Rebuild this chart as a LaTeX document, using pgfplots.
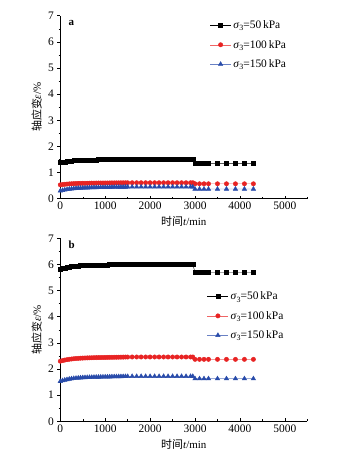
\documentclass[border=0pt]{standalone}
\usepackage{fontspec}
\setmainfont{Liberation Serif}
\newfontfamily\cjk{Noto Sans CJK SC}
\usepackage{pgfplots}
\usepackage{pgfplotstable}
\pgfplotsset{compat=1.18}
\definecolor{myred}{RGB}{232,35,35}
\definecolor{myblue}{RGB}{40,75,170}

\pgfplotstableread{
t k r b
0 1.380 0.530 0.300
50 1.398 0.541 0.321
100 1.414 0.551 0.339
150 1.427 0.559 0.354
200 1.439 0.566 0.368
250 1.448 0.572 0.378
300 1.455 0.576 0.387
350 1.462 0.580 0.395
400 1.467 0.584 0.401
450 1.472 0.587 0.407
500 1.476 0.589 0.411
550 1.479 0.591 0.414
600 1.481 0.592 0.417
650 1.484 0.594 0.420
700 1.486 0.595 0.422
750 1.488 0.596 0.425
800 1.490 0.598 0.427
850 1.492 0.599 0.429
900 1.493 0.600 0.431
950 1.494 0.600 0.432
1000 1.496 0.601 0.434
1050 1.497 0.602 0.435
1100 1.498 0.603 0.437
1150 1.500 0.604 0.438
1200 1.501 0.604 0.440
1250 1.502 0.605 0.441
1300 1.504 0.606 0.443
1350 1.505 0.607 0.444
1400 1.506 0.608 0.446
1450 1.507 0.608 0.447
1500 1.509 0.609 0.449
1600 1.51 0.61 0.45
1700 1.51 0.61 0.45
1800 1.51 0.61 0.45
1900 1.51 0.61 0.45
2000 1.51 0.61 0.45
2100 1.51 0.61 0.45
2200 1.51 0.61 0.45
2300 1.51 0.61 0.45
2400 1.51 0.61 0.45
2500 1.51 0.61 0.45
2600 1.51 0.61 0.45
2700 1.51 0.61 0.45
2800 1.51 0.61 0.45
2900 1.51 0.61 0.45
2950 1.51 0.61 0.45
3000 1.34 0.57 0.37
3100 1.34 0.57 0.37
3200 1.34 0.57 0.37
3300 1.34 0.57 0.37
3500 1.34 0.57 0.37
3700 1.34 0.57 0.37
3900 1.34 0.57 0.37
4100 1.34 0.57 0.37
4300 1.34 0.57 0.37
}\dataA

\pgfplotstableread{
t k r b
0 5.810 2.300 1.530
50 5.838 2.322 1.557
100 5.862 2.342 1.579
150 5.882 2.358 1.598
200 5.900 2.372 1.616
250 5.914 2.383 1.629
300 5.926 2.393 1.640
350 5.936 2.401 1.650
400 5.944 2.407 1.657
450 5.952 2.414 1.665
500 5.958 2.418 1.671
550 5.962 2.422 1.674
600 5.966 2.425 1.678
650 5.970 2.428 1.682
700 5.973 2.430 1.685
750 5.976 2.433 1.688
800 5.979 2.435 1.691
850 5.982 2.438 1.693
900 5.984 2.439 1.695
950 5.986 2.441 1.697
1000 5.988 2.442 1.699
1050 5.990 2.444 1.701
1100 5.992 2.446 1.703
1150 5.994 2.447 1.705
1200 5.996 2.449 1.707
1250 5.998 2.450 1.709
1300 6.000 2.452 1.711
1350 6.002 2.454 1.712
1400 6.004 2.455 1.714
1450 6.006 2.457 1.716
1500 6.008 2.458 1.718
1600 6.01 2.46 1.72
1700 6.01 2.46 1.72
1800 6.01 2.46 1.72
1900 6.01 2.46 1.72
2000 6.01 2.46 1.72
2100 6.01 2.46 1.72
2200 6.01 2.46 1.72
2300 6.01 2.46 1.72
2400 6.01 2.46 1.72
2500 6.01 2.46 1.72
2600 6.01 2.46 1.72
2700 6.01 2.46 1.72
2800 6.01 2.46 1.72
2900 6.01 2.46 1.72
2950 6.01 2.46 1.72
3000 5.69 2.37 1.63
3100 5.69 2.37 1.63
3200 5.69 2.37 1.63
3300 5.69 2.37 1.63
3500 5.69 2.37 1.63
3700 5.69 2.37 1.63
3900 5.69 2.37 1.63
4100 5.69 2.37 1.63
4300 5.69 2.37 1.63
}\dataB

\pgfplotsset{
 panel/.style={
  scale only axis, width=247bp, height=183bp,
  xmin=0, xmax=5500, ymin=0, ymax=7,
  axis lines*=left,
  xtick={0,1000,...,5000}, minor xtick={500,1500,...,5500},
  ytick={0,...,7}, minor ytick={0.5,1.5,...,6.5},
  xtick align=inside, ytick align=outside,
  major tick length=3bp, minor tick length=1.8bp,
  tick style={black, line width=0.5pt},
  axis line style={line width=0.6pt},
  tick label style={font=\fontsize{11.5}{12}\selectfont},
  /pgf/number format/assume math mode=true,
  /pgf/number format/1000 sep={},
  label style={font=\fontsize{11}{12}\selectfont},
  xlabel={{\cjk 时间}\textit{t}/min},
  ylabel={{\cjk 轴应变}\textit{ε}/\%},
  xlabel style={at={(axis description cs:0.5,-0.125)}, anchor=center},
  ylabel style={at={(axis description cs:-0.0957,0.5)}, anchor=center},
  legend style={draw=none, fill=none, font=\fontsize{11.5}{12}\selectfont, inner sep=0pt, row sep=6bp},
  legend cell align=left,
  legend image code/.code={\draw[mark repeat=2,mark phase=2,##1] plot coordinates {(0bp,0bp)(10.5bp,0bp)(21bp,0bp)};},
 },
 sk/.style={black, line width=0.4pt, mark=square*, mark size=2bp, mark options={fill=black,draw=black}},
 sr/.style={myred!70, line width=0.4pt, mark=*, mark size=2.2bp, mark options={fill=myred,draw=myred}},
 sb/.style={myblue!70, line width=0.4pt, mark=triangle*, mark size=2.6bp, mark options={fill=myblue,draw=myblue}},
}
\newcommand{\sig}[1]{\textit{σ}\raisebox{-0.45ex}{\fontsize{8}{8}\selectfont 3}=#1\,kPa}

\begin{document}
\begin{tikzpicture}
\path[use as bounding box, fill=white] (0,0) rectangle (342bp,456bp);
\begin{axis}[panel, at={(60.3bp,257.3bp)}, anchor=south west,
  legend style={at={(axis description cs:0.605,0.985)}, anchor=north west}]
\addplot[sk] table[x=t,y=k]{\dataA};
\addlegendentry{\sig{50}}
\addplot[sr] table[x=t,y=r]{\dataA};
\addlegendentry{\sig{100}}
\addplot[sb] table[x=t,y=b]{\dataA};
\addlegendentry{\sig{150}}
\node[font=\bfseries\fontsize{11}{12}\selectfont] at (axis description cs:0.045,0.962) {a};
\end{axis}
\begin{axis}[panel, at={(60.3bp,34.7bp)}, anchor=south west,
  legend style={at={(axis description cs:0.594,0.72)}, anchor=north west}]
\addplot[sk] table[x=t,y=k]{\dataB};
\addlegendentry{\sig{50}}
\addplot[sr] table[x=t,y=r]{\dataB};
\addlegendentry{\sig{100}}
\addplot[sb] table[x=t,y=b]{\dataB};
\addlegendentry{\sig{150}}
\node[font=\bfseries\fontsize{11}{12}\selectfont] at (axis description cs:0.046,0.967) {b};
\end{axis}
\end{tikzpicture}
\end{document}
